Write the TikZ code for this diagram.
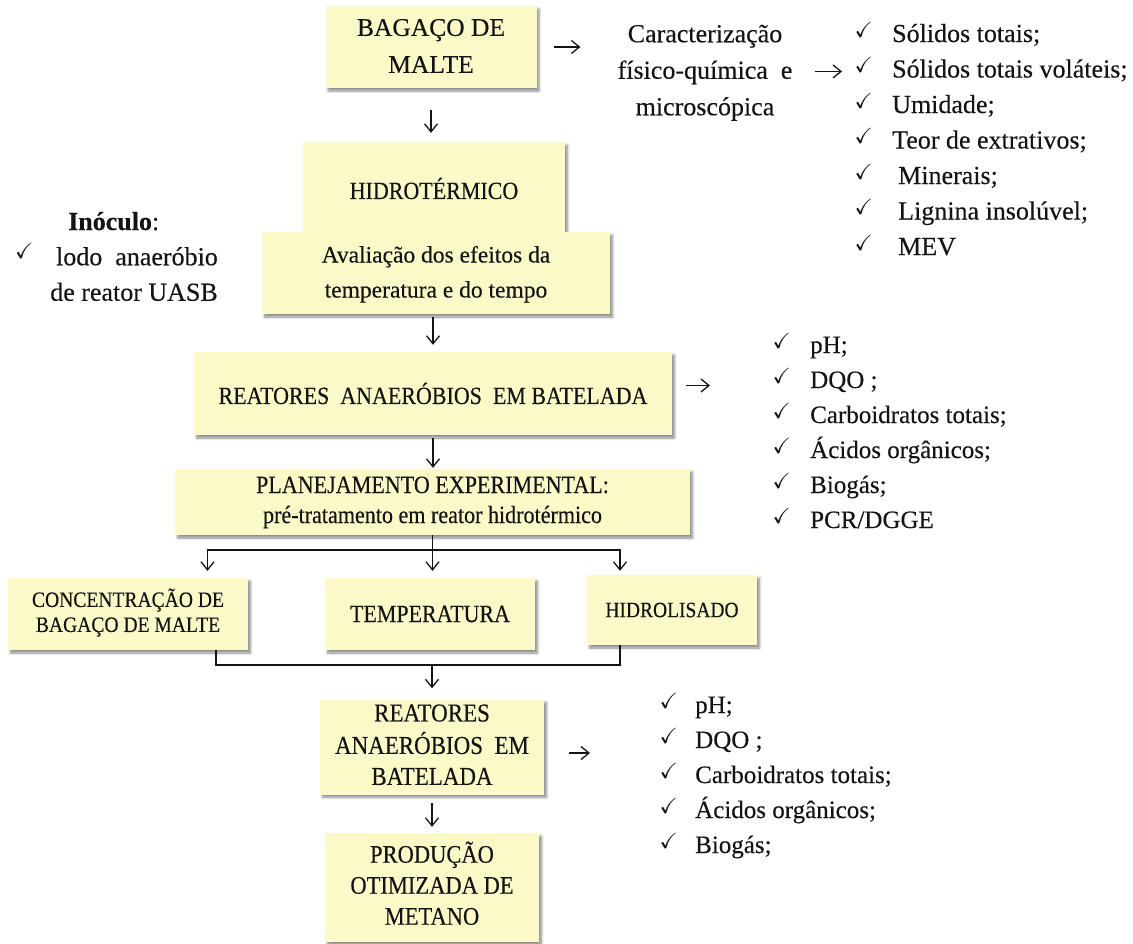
\documentclass[tikz,border=0pt]{standalone}
\usepackage{amssymb}
\usepackage{fontspec}
\setmainfont{Liberation Serif}[FakeBold=0.3]
\newfontfamily\condfont{Liberation Serif}[FakeStretch=0.89, FakeBold=0.3]
\usetikzlibrary{arrows.meta,shadows.blur}

\definecolor{boxfill}{RGB}{252,249,201}
\definecolor{ink}{RGB}{20,20,20}

% font size helpers: size / baselineskip in pt
\newcommand\fsz[2]{\fontsize{#1pt}{#2pt}\selectfont}
\newcommand\cfs[2]{\condfont\fontsize{#1pt}{#2pt}\selectfont}
% raised check mark, set without width
\newcommand\chk{\rlap{\raisebox{5pt}{\fontsize{22pt}{22pt}\selectfont\boldmath$\checkmark$}}}

\begin{document}
\begin{tikzpicture}[x=1pt,y=-1pt,
  box/.style={fill=boxfill, inner sep=0pt, align=center, text=ink,
    blur shadow={shadow xshift=2.5pt, shadow yshift=-3pt, shadow opacity=45,
                 shadow blur radius=2.5pt, shadow blur steps=6}},
  plain/.style={inner sep=0pt, text=ink},
  item/.style={plain, anchor=base west},
  conn/.style={draw=ink, line width=1.3pt, -{Straight Barb[length=8pt,width=13pt]}},
  bar/.style={draw=ink, line width=1.6pt},
]
\useasboundingbox (0,0) rectangle (1133,943);

% ---- main column boxes ----
\node[box, minimum width=211pt, minimum height=82pt, font=\fsz{25.5}{37}] (bagaco) at (431,47)
  {\strut BAGAÇO DE\\\strut MALTE};
\node[box, minimum width=262pt, minimum height=93pt, font=\cfs{24.7}{28}] (hidro) at (434,188.5)
  {HIDROTÉRMICO};
\node[box, minimum width=348pt, minimum height=82pt, font=\fsz{23.5}{35}] (avaliacao) at (436,273)
  {\strut Avaliação dos efeitos da\\\strut temperatura e do tempo};
\node[box, minimum width=478pt, minimum height=83pt, font=\cfs{24.7}{28}] (reat1) at (433,393.5)
  {REATORES\ \ ANAERÓBIOS\ \ EM BATELADA};
\node[box, minimum width=515pt, minimum height=66pt, font=\cfs{24.8}{30}] (plan) at (432.5,502)
  {\strut PLANEJAMENTO EXPERIMENTAL:\\\strut pré-tratamento em reator hidrotérmico};
\node[box, minimum width=240pt, minimum height=72pt, font=\cfs{22}{25}] (conc) at (128,614)
  {\strut CONCENTRAÇÃO DE\\\strut BAGAÇO DE MALTE};
\node[box, minimum width=210pt, minimum height=72pt, font=\cfs{24.7}{28}] (temp) at (430,614)
  {TEMPERATURA};
\node[box, minimum width=170pt, minimum height=70pt, font=\cfs{21.9}{25}] (hidrol) at (672,610)
  {HIDROLISADO};
\node[box, minimum width=224pt, minimum height=95pt, font=\cfs{25.8}{31}] (reat2) at (432,747)
  {\strut REATORES\\\strut ANAERÓBIOS\ \ EM\\\strut BATELADA};
\node[box, minimum width=214pt, minimum height=109pt, font=\cfs{25.3}{31}] (prod) at (432,887.5)
  {\strut PRODUÇÃO\\\strut OTIMIZADA DE\\\strut METANO};

% ---- inoculum note ----
\node[plain, anchor=base west, font=\fsz{26}{30}] (inoc) at (68,230) {\textbf{Inóculo}:};
\node[plain, anchor=north east, align=right, font=\fsz{26}{35.5}] (inocbody) at (218,240.2)
  {\strut lodo\ \ anaeróbio\\\strut de reator UASB};
\node[plain, anchor=base west, font=\fsz{26}{30}] (inocchk) at (14.5,263) {\chk};

% ---- characterisation ----
\node[plain, align=center, anchor=north, font=\fsz{26}{36.5}] (carac) at (705,16.5)
  {\strut Caracterização\\\strut físico-química\ \ e\\\strut microscópica};

\begin{scope}[every node/.style={item, font=\fsz{26}{30}}]
  \node (a1) at (854.5,42)    {\chk\hspace{37.5pt}Sólidos totais;};
  \node (a2) at (854.5,77.5)  {\chk\hspace{37.5pt}Sólidos totais voláteis;};
  \node (a3) at (854.5,113)   {\chk\hspace{37.5pt}Umidade;};
  \node (a4) at (854.5,148.5) {\chk\hspace{37.5pt}Teor de extrativos;};
  \node (a5) at (854.5,184)   {\chk\hspace{43.5pt}Minerais;};
  \node (a6) at (854.5,219.5) {\chk\hspace{43.5pt}Lignina insolúvel;};
  \node (a7) at (854.5,255)   {\chk\hspace{43.5pt}MEV};
\end{scope}

% ---- analyses of the batch reactors ----
\begin{scope}[every node/.style={item, font=\fsz{25}{30}}]
  \node (b1) at (772.5,353) {\chk\hspace{37.5pt}pH;};
  \node (b2) at (772.5,388) {\chk\hspace{37.5pt}DQO ;};
  \node (b3) at (772.5,423) {\chk\hspace{37.5pt}Carboidratos totais;};
  \node (b4) at (772.5,458) {\chk\hspace{37.5pt}Ácidos orgânicos;};
  \node (b5) at (772.5,493) {\chk\hspace{37.5pt}Biogás;};
  \node (b6) at (772.5,528) {\chk\hspace{37.5pt}PCR/DGGE};

  \node (c1) at (659.5,713) {\chk\hspace{35.5pt}pH;};
  \node (c2) at (659.5,748) {\chk\hspace{35.5pt}DQO ;};
  \node (c3) at (659.5,783) {\chk\hspace{35.5pt}Carboidratos totais;};
  \node (c4) at (659.5,818) {\chk\hspace{35.5pt}Ácidos orgânicos;};
  \node (c5) at (659.5,853) {\chk\hspace{35.5pt}Biogás;};
\end{scope}

% ---- connectors ----
\draw[conn, shorten <=22pt, shorten >=9pt] (bagaco.south) -- (bagaco.south |- hidro.north);
\draw[conn, shorten <=17pt, shorten >=37pt] (bagaco.east) -- (bagaco.east -| carac.west);
\draw[conn, shorten <=22pt, shorten >=12.5pt] (carac.east) -- (carac.east -| a2.west);
\draw[conn, shorten <=3pt, shorten >=7pt] (reat1.north |- avaliacao.south) -- (reat1.north);
\draw[conn, shorten <=3pt, shorten >=1pt] (reat1.south) -- (reat1.south |- plan.north);
\draw[conn, shorten <=14pt, shorten >=62.5pt] ([yshift=8pt]reat1.east) -- ([yshift=8pt]reat1.east -| b2.west);

% split into the three factors
\coordinate (split) at ([yshift=-15pt]plan.south);
\path (split) ++(-225,0) coordinate (bl);
\path (split) ++(187.5,0) coordinate (br);
\draw[bar] (plan.south) -- (split);
\draw[bar, line cap=rect] (bl) -- (br);
\draw[conn, shorten >=7pt] (bl) -- (bl |- conc.north);
\draw[conn, shorten >=7pt] (split) -- (split |- temp.north);
\draw[conn, shorten >=4pt] (br) -- (br |- hidrol.north);

% merge back into the reactors
\coordinate (ml) at ([xshift=88pt]conc.south);
\coordinate (mr) at ([xshift=-52pt]hidrol.south);
\path (ml) ++(0,15) coordinate (mj);
\draw[bar] (ml) -- (mj) -| (mr);
\draw[conn, shorten >=11pt] (mj -| reat2.north) -- (reat2.north);
\draw[conn, shorten <=8.5pt, shorten >=6pt] (reat2.south) -- (prod.north);
\draw[conn, shorten <=25pt, shorten >=69.5pt] ([yshift=-6pt]reat2.east) -- ([yshift=-6pt]reat2.east -| c2.west);
\end{tikzpicture}
\end{document}
